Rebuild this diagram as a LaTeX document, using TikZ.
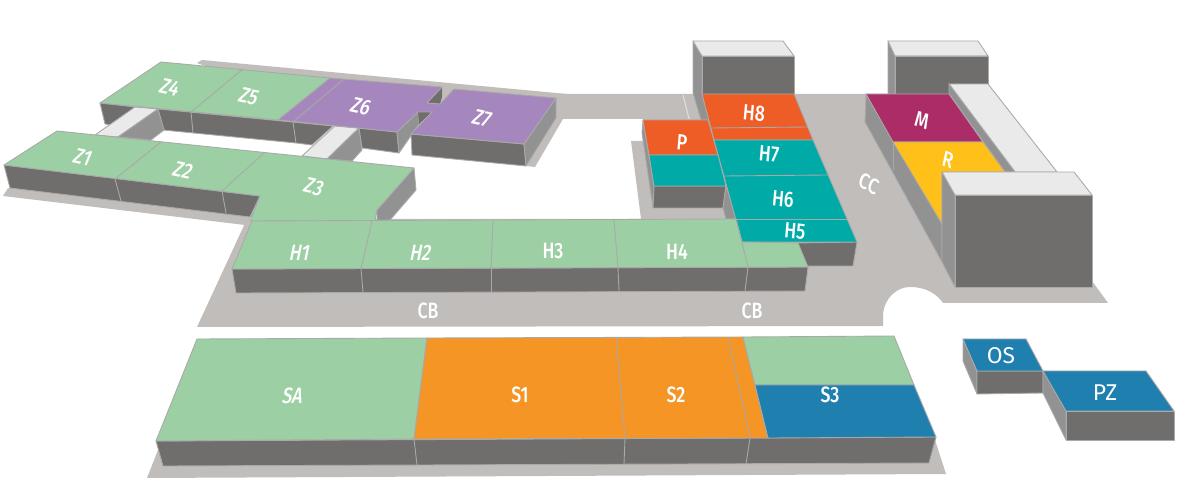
\documentclass[tikz,border=0pt]{standalone}
\usepackage{fontspec}
\setmainfont{Fira Sans}
\newfontfamily\lblfont{Fira Sans Medium}
\definecolor{groundgrey}{HTML}{C1BDBB}
\definecolor{frontgrey}{HTML}{6F6E6C}
\definecolor{sidegrey}{HTML}{939292}
\definecolor{linegrey}{HTML}{A9A9A9}
\definecolor{paleroof}{HTML}{EAEAEA}
\definecolor{zonegreen}{HTML}{9CCFA3}
\definecolor{zonepurple}{HTML}{A687BD}
\definecolor{zonered}{HTML}{EE5D26}
\definecolor{zoneteal}{HTML}{00ABA7}
\definecolor{zonewine}{HTML}{AC2C67}
\definecolor{zoneyellow}{HTML}{FFC01A}
\definecolor{zoneorange}{HTML}{F49525}
\definecolor{zoneblue}{HTML}{1F7FAE}
\tikzset{
  face/.style={draw=linegrey, line width=0.25pt, line join=round},
  ground/.style={fill=groundgrey},
  front/.style={face, fill=frontgrey},
  side/.style={face, fill=sidegrey},
  pale/.style={face, fill=paleroof},
  seam/.style={draw=linegrey, line width=0.25pt},
  lbl/.style={text=white, inner sep=0pt, transform shape,
    font=\fontsize{6.3}{7}\lblfont, xscale=0.8},
  lblz/.style={lbl, rotate=-10, xslant=0.3},
  lblh/.style={lbl, xslant=0.25},
  lbls/.style={lbl, rotate=-6},
  lblw/.style={text=white, inner sep=0pt, font=\fontsize{6.5}{7}\selectfont}
}
\begin{document}
\begin{tikzpicture}[x=0.01cm, y=-0.01cm]
  \useasboundingbox (0,0) rectangle (1195,495);

  % ground
  \fill [ground] (197,63) -- (202,60) -- (567,94) -- (563,119) -- (535,167) -- (526,166) -- (300,100) -- cycle;
  \fill [ground] (3,196) -- (8,188) -- (255,212) -- (245,225) -- cycle;
  \fill [ground] (556,94) -- (870,94) -- (1092,281) -- (1108,303) -- (943,303)
     .. controls (936,293) and (925,287) .. (910,287)
     .. controls (897,287) and (884,298) .. (883,315) -- (883,326) -- (197,327) -- (247,219) -- (641,219)
     -- (631,141) -- (643,141) -- (643,119) -- (561,119) -- cycle;
  \fill [ground] (147,478) -- (158,450) -- (935,440) -- (946,474) -- cycle;
  \draw [groundgrey!50!white, line width=0.3pt] (683,95) -- (689,119);

  % bridges between the two Z wings
  \draw [front] (100,103) -- (135,107) -- (112,125) -- (105,124) -- cycle;
  \draw [front] (158,109) -- (333,126) -- (312,145) -- (296,143) -- (163,130) -- cycle;
  \draw [pale] (135,107) -- (158,109) -- (118,137) -- (95,135) -- cycle;
  \draw [side] (158,109) -- (164,130) -- (151,140) -- (118,137) -- cycle;
  \draw [pale] (335,126) -- (359,128) -- (327,159) -- (302,156) -- cycle;
  \draw [side] (359,128) -- (362,150) -- (352,161) -- (327,159) -- cycle;
  \draw [front] (359,128) -- (397,132) -- (399,153) -- (362,148) -- cycle;
  \draw [seam] (191,112) -- (193,133);
  \draw [seam] (293,122) -- (296,143);

  % Z4 to Z7
  \draw [face, fill=zonegreen] (100,103) -- (161,62) -- (330,78) -- (278,120) -- cycle;
  \draw [side] (397,132) -- (418,112) -- (419,124) -- (399,153) -- cycle;
  \fill [frontgrey] (418,112) -- (432,112) -- (419,124) -- cycle;
  \fill [frontgrey] (427,103) -- (442,87) -- (442,97) -- (440,104) -- cycle;
  \draw [front] (411,134) -- (524,144) -- (526,166) -- (412,155) -- cycle;
  \draw [side] (524,144) -- (556,98) -- (556,118) -- (526,166) -- cycle;
  \draw [face, fill=zonepurple] (330,78) -- (442,87) -- (427,103) -- (440,104) -- (454,89) -- (556,98) -- (524,144)
     -- (411,134) -- (432,112) -- (418,112) -- (397,132) -- (278,120) -- cycle;
  \draw [seam] (243,69) -- (191,112);
  \draw [seam] (344,79) -- (293,122);

  % Z1 to Z3
  \draw [front] (4,165) -- (260,196) -- (250,217) -- (10,188) -- cycle;
  \draw [side] (414,168) -- (416,190) -- (390,220) -- (377,220) -- (377,210) -- cycle;
  \draw [face, fill=zonegreen] (4,165) -- (57,131) -- (414,168) -- (377,210) -- (375,221) -- (250,221) -- (260,196) -- cycle;
  \draw [seam] (115,179) -- (161,142);
  \draw [seam] (222,191) -- (264,153);
  \draw [seam] (115,179) -- (121,201);
  \draw [seam] (222,191) -- (226,213);

  % tower behind H8
  \draw [side] (693,41) -- (702,56) -- (702,94) -- (709,120) -- (701,120) -- (693,93) -- cycle;
  \draw [pale] (693,41) -- (783,41) -- (794,56) -- (702,56) -- cycle;
  \draw [front] (702,56) -- (794,56) -- (794,94) -- (702,94) -- cycle;

  % P block
  \draw [side] (643,120) -- (654,186) -- (653,208) -- (642,133) -- cycle;
  \draw [front] (654,186) -- (726,186) -- (723,208) -- (653,208) -- cycle;
  \draw [side] (726,186) -- (737,219) -- (726,219) -- (723,208) -- cycle;
  \draw [face, fill=zonered] (643,120) -- (708,120) -- (718,155) -- (649,155) -- cycle;
  \draw [face, fill=zoneteal] (649,155) -- (718,155) -- (726,186) -- (654,186) -- cycle;

  % H5 to H8
  \draw [front] (798,243) -- (857,242) -- (853,266) -- (804,266) -- cycle;
  \draw [face, fill=zonered] (702,94) -- (794,94) -- (813,140) -- (714,140) -- cycle;
  \draw [face, fill=zoneteal] (714,140) -- (813,140) -- (857,242) -- (742,242) -- cycle;
  \draw [seam] (711,128) -- (808,127);
  \draw [seam] (724,176) -- (828,175);
  \draw [seam] (736,219) -- (847,219);

  % H1 to H4
  \draw [front] (232,269) -- (808,267) -- (805,291) -- (236,293) -- cycle;
  \draw [face, fill=zonegreen] (232,269) -- (252,221) -- (736,219) -- (742,242) -- (798,243) -- (808,267) -- cycle;
  \draw [seam] (372,221) -- (361,269);
  \draw [seam] (493,221) -- (491,269);
  \draw [seam] (614,220) -- (618,268);
  \draw [seam] (736,219) -- (748,267);
  \draw [seam] (361,269) -- (363,292);
  \draw [seam] (491,269) -- (491,292);
  \draw [seam] (618,268) -- (619,291);
  \draw [seam] (748,267) -- (745,291);

  % M, R and the buildings on the right
  \draw [side] (888,41) -- (895,56) -- (895,94) -- (888,94) -- cycle;
  \draw [pale] (888,41) -- (978,41) -- (988,56) -- (895,56) -- cycle;
  \draw [front] (895,56) -- (988,56) -- (988,84) -- (949,84) -- (949,94) -- (895,94) -- cycle;
  \draw [pale] (949,84) -- (988,84) -- (1057,172) -- (1015,172) -- cycle;
  \draw [side] (949,84) -- (1015,172) -- (1005,172) -- (949,94) -- cycle;
  \draw [side] (866,94) -- (942,224) -- (942,262) -- (865,122) -- cycle;
  \draw [seam] (893,142) -- (893,170);
  \draw [face, fill=zonewine] (866,94) -- (949,94) -- (983,142) -- (893,142) -- cycle;
  \draw [face, fill=zoneyellow] (893,142) -- (983,142) -- (1005,172) -- (942,172) -- (942,224) -- cycle;
  \draw [side] (942,172) -- (955,195) -- (955,287) -- (942,262) -- cycle;
  \draw [pale] (942,172) -- (1074,172) -- (1092,195) -- (955,195) -- cycle;
  \draw [front] (955,195) -- (1092,195) -- (1092,287) -- (955,287) -- cycle;

  % SA and S1 to S3
  \draw [front] (156,441) -- (936,437) -- (929,463) -- (163,466) -- cycle;
  \draw [face, fill=zonegreen] (197,339) -- (427,338) -- (414,439) -- (156,441) -- cycle;
  \draw [face, fill=zoneorange] (427,338) -- (743,337) -- (768,438) -- (414,439) -- cycle;
  \draw [face, fill=zonegreen] (743,337) -- (894,336) -- (914,385) -- (755,385) -- cycle;
  \draw [face, fill=zoneblue] (755,385) -- (914,385) -- (936,437) -- (768,438) -- cycle;
  \draw [seam] (616,337) -- (625,438);
  \draw [seam] (728,337) -- (750,438);
  \draw [seam] (414,439) -- (417,465);
  \draw [seam] (625,438) -- (624,464);
  \draw [seam] (750,438) -- (746,464);

  % OS and PZ
  \draw [side] (963,339) -- (977,371) -- (977,394) -- (963,361) -- cycle;
  \draw [front] (977,371) -- (1043,371) -- (1043,393) -- (977,394) -- cycle;
  \draw [face, fill=zoneblue] (963,339) -- (1026,339) -- (1043,371) -- (977,371) -- cycle;
  \draw [side] (1043,371) -- (1066,411) -- (1066,440) -- (1043,393) -- cycle;
  \draw [front] (1066,411) -- (1174,411) -- (1174,440) -- (1066,440) -- cycle;
  \draw [face, fill=zoneblue] (1043,371) -- (1146,371) -- (1174,411) -- (1066,411) -- cycle;

  % labels
  \node [lblz] (z1) at (83,157) {Z1};
  \node [lblz] (z2) at (183,170) {Z2};
  \node [lblz] (z3) at (314,187) {Z3};
  \node [lblz] (z4) at (170,87) {Z4};
  \node [lblz] (z5) at (249,97) {Z5};
  \node [lblz] (z6) at (361,107) {Z6};
  \node [lblz] (z7) at (482,118) {Z7};
  \node [lbls] (p) at (682,143) {P};
  \node [lbls] (h8) at (754,113) {H8};
  \node [lbls] (h7) at (769,154) {H7};
  \node [lbls] (h6) at (783,199) {H6};
  \node [lbls] (h5) at (795,231) {H5};
  \node [lblh] (h1) at (300,253) {H1};
  \node [lblh] (h2) at (421,253) {H2};
  \node [lbl] (h3) at (553,251) {H3};
  \node [lbl] (h4) at (677,252) {H4};
  \node [lbl] (cb1) at (428,311) {CB};
  \node [lbl] (cb2) at (752,311) {CB};
  \node [lbl, rotate=-25] (cc) at (869,184) {CC};
  \node [lbl, rotate=-15] (m) at (922,120) {M};
  \node [lbl, rotate=-15] (r) at (948,160) {R};
  \node [lblh] (sa) at (293,396) {SA};
  \node [lbl] (s1) at (520,395) {S1};
  \node [lbl] (s2) at (676,395) {S2};
  \node [lbl] (s3) at (830,395) {S3};
  \node [lblw] (os) at (1001,356) {OS};
  \node [lblw] (pz) at (1105,393) {PZ};
\end{tikzpicture}
\end{document}
